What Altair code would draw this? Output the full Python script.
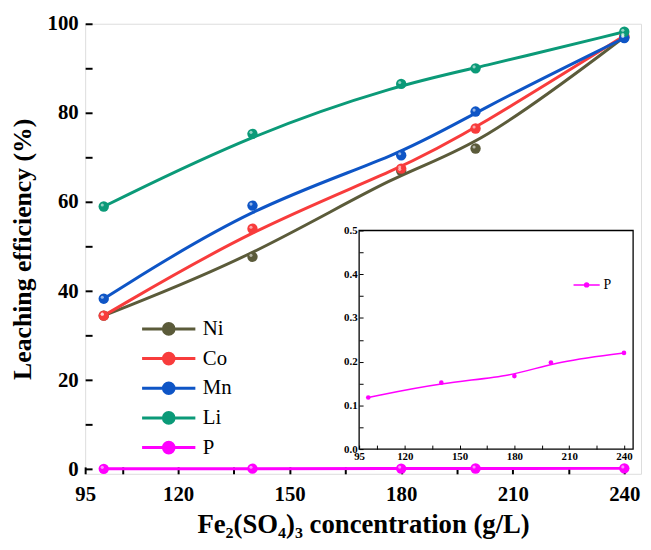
import altair as alt
import pandas as pd

conc = [100, 140, 180, 200, 240]
ni = [34.5, 47.7, 67.0, 72.0, 97.0]
co = [34.5, 54.0, 67.5, 76.5, 97.3]
mn = [38.3, 59.2, 70.5, 80.3, 96.8]
li = [59.0, 75.3, 86.5, 90.0, 98.2]
p = [0.118, 0.152, 0.167, 0.198, 0.22]

elements = ["Ni", "Co", "Mn", "Li", "P"]
colors = ["#5b5b3a", "#f83c3c", "#0e55c6", "#0b9a78", "#ff00ff"]

main_ticks_x = [95, 105, 120, 135, 150, 165, 180, 195, 210, 225, 240]
main_ticks_y = [0, 10, 20, 30, 40, 50, 60, 70, 80, 90, 100]
inset_ticks_y = [0.0, 0.05, 0.1, 0.15, 0.2, 0.25, 0.3, 0.35, 0.4, 0.45, 0.5]

rows = []
for name, vals in zip(elements, [ni, co, mn, li, p]):
    for c, v in zip(conc, vals):
        rows.append({"conc": c, "eff": v, "el": name})
df = pd.DataFrame(rows)
dfp = pd.DataFrame({"conc": conc, "eff": p, "el": ["P"] * len(conc)})
frame = pd.DataFrame({"x0": [95], "x1": [245], "y0": [0.0], "y1": [0.5]})

W, H = 562, 455
FONT = "Liberation Serif"

label_expr_x = "indexof([95,120,150,180,210,240], datum.value) >= 0 ? datum.value : ''"
label_expr_y = "datum.value % 20 === 0 ? datum.value : ''"

xs = alt.Scale(domain=[95, 244.5], nice=False, zero=False)
ys = alt.Scale(domain=[-1, 100], nice=False, zero=False)
xaxis = alt.Axis(values=main_ticks_x, labelExpr=label_expr_x, domain=False, grid=False,
                 tickSize={"expr": "-7"}, tickWidth=2, tickColor="black",
                 labelPadding=17, labelFont=FONT, labelFontSize=21, labelFontWeight=700,
                 labelColor="black", title="Fe₂(SO₄)₃ concentration (g/L)", titleFont=FONT,
                 titleFontSize=27, titleFontWeight=700, titleColor="black", titlePadding=7,
                 labelFlush=False)
yaxis = alt.Axis(values=main_ticks_y, labelExpr=label_expr_y, domain=False, grid=False,
                 tickSize={"expr": "-7"}, tickWidth=2, tickColor="black",
                 labelPadding=14, labelFont=FONT, labelFontSize=21, labelFontWeight=700,
                 labelColor="black", title="Leaching efficiency (%)", titleFont=FONT,
                 titleFontSize=26, titleFontWeight=700, titleColor="black", titlePadding=12,
                 labelFlush=False)

color = alt.Color("el:N", scale=alt.Scale(domain=elements, range=colors),
                  legend=alt.Legend(orient="none", legendX=56, legendY=298, title=None,
                                    symbolType="M-1,0L1,0M0.2,0A0.2,0.2,0,1,1,-0.2,0A0.2,0.2,0,1,1,0.2,0Z",
                                    symbolSize=2900, symbolStrokeWidth=3, rowPadding=8,
                                    clipHeight=21, symbolOpacity=1,
                                    labelFont=FONT, labelFontSize=21, labelColor="black",
                                    labelOffset=6))

base = alt.Chart(df).encode(
    x=alt.X("conc:Q", scale=xs, axis=xaxis),
    y=alt.Y("eff:Q", scale=ys, axis=yaxis),
    color=color,
)
lines = base.mark_line(interpolate="basis", strokeWidth=3)
pts = base.mark_point(filled=True, size=110, opacity=1)
hl = alt.Chart(df).mark_point(filled=True, size=10, color="white", opacity=0.55,
                              xOffset=-1.5, yOffset=-1.5).encode(
    x=alt.X("conc:Q", scale=xs), y=alt.Y("eff:Q", scale=ys))
main = alt.layer(lines, pts, hl)

# inset
ixs = alt.Scale(domain=[95, 245], nice=False, zero=False, range=[277, 554])
iys = alt.Scale(domain=[0, 0.5], nice=False, zero=False, range=[430, 209])
ixaxis = alt.Axis(orient="bottom", offset=-(H - 430), values=main_ticks_x, labelExpr=label_expr_x,
                  domain=False, grid=False, tickSize={"expr": "-4"}, tickWidth=1, tickColor="black",
                  labelPadding=6, labelFont=FONT, labelFontSize=11, labelFontWeight="bold",
                  labelColor="black", title=None, labelFlush=False)
iyaxis = alt.Axis(orient="left", offset=-277, values=inset_ticks_y,
                  labelExpr="abs(datum.value*10 - round(datum.value*10)) < 0.001 ? format(datum.value, '.1f') : ''",
                  domain=False, grid=False, tickSize={"expr": "-4"}, tickWidth=1, tickColor="black",
                  labelPadding=6, labelFont=FONT, labelFontSize=11, labelFontWeight="bold",
                  labelColor="black", title=None, labelFlush=False)

box = alt.Chart(frame).mark_rect(fill=None, stroke="black", strokeWidth=1.3).encode(
    x=alt.X("x0:Q", scale=ixs, axis=ixaxis), x2="x1:Q",
    y=alt.Y("y0:Q", scale=iys, axis=iyaxis), y2="y1:Q")
ibase = alt.Chart(dfp).encode(x=alt.X("conc:Q", scale=ixs), y=alt.Y("eff:Q", scale=iys))
iline = ibase.mark_line(interpolate="basis", strokeWidth=1.5, color="#ff00ff")
ipts = ibase.mark_point(filled=True, size=22, color="#ff00ff", opacity=1)
ileg = alt.Chart(pd.DataFrame({"el": ["P"]})).mark_point(opacity=0, filled=True).encode(
    fill=alt.Fill("el:N", scale=alt.Scale(domain=["P"], range=["#ff00ff"]),
                  legend=alt.Legend(orient="none", legendX=493, legendY=257, title=None,
                                    symbolType="M-1,0L1,0M0.15,0A0.15,0.15,0,1,1,-0.15,0A0.15,0.15,0,1,1,0.15,0Z",
                                    symbolSize=700, symbolStrokeWidth=1.5, clipHeight=14,
                                    symbolStrokeColor="#ff00ff",
                                    symbolOpacity=1,
                                    labelFont=FONT, labelFontSize=14, labelColor="black",
                                    labelOffset=3)))
inset = alt.layer(box, iline, ipts, ileg)

chart = alt.layer(main, inset).resolve_scale(x="independent", y="independent", fill="independent").properties(
    width=W, height=H,
    autosize=alt.AutoSizeParams(type="none"),
    padding={"left": 78, "top": 13, "right": 2, "bottom": 66},
).configure_view(stroke="black", strokeWidth=2.5).configure(background="white")

chart.save("out.html", embed_options={"renderer": "svg", "actions": False})
